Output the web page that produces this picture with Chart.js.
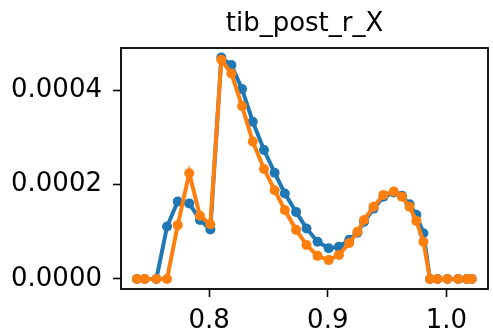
<!DOCTYPE html>
<html>
<head>
<meta charset="utf-8">
<script src="https://cdn.jsdelivr.net/npm/chart.js@4.4.1/dist/chart.umd.min.js"></script>
<style>
  html, body { margin: 0; padding: 0; background: #fff; }
  canvas { display: block; }
</style>
</head>
<body>
<canvas id="chart" width="493" height="331"></canvas>
<script>
// valeurs
const titleText = 'tib_post_r_X';
const xValues = [0.7392, 0.7458, 0.7556, 0.7646, 0.7736, 0.7833, 0.7923, 0.8011, 0.8103, 0.8188,
  0.8278, 0.8368, 0.8463, 0.8552, 0.8638, 0.8733, 0.8821, 0.8914, 0.9008, 0.9094,
  0.9181, 0.9250, 0.9306, 0.9386, 0.9469, 0.9556, 0.9625, 0.9689, 0.9746, 0.9806,
  0.9861, 0.9925, 1.0008, 1.0098, 1.0171, 1.0213];
const blueValues = [0, 0, 0, 0.000111, 0.000164, 0.000160, 0.000125, 0.000105, 0.000469, 0.000453,
  0.000402, 0.000333, 0.000273, 0.000225, 0.000181, 0.000142, 0.000107, 0.000079, 0.000065, 0.000068,
  0.000083, 0.000098, 0.000121, 0.000149, 0.000174, 0.000183, 0.000176, 0.000158, 0.000136, 0.000097,
  0, 0, 0, 0, 0, 0];
const orangeValues = [0, 0, 0, 0, 0.000114, 0.000224, 0.000134, 0.000116, 0.000464, 0.000435,
  0.000366, 0.000291, 0.000233, 0.000188, 0.000146, 0.000104, 0.000072, 0.000049, 0.000040, 0.000051,
  0.000076, 0.000100, 0.000125, 0.000153, 0.000178, 0.000185, 0.000174, 0.000153, 0.000123, 0.000079,
  0, 0, 0, 0, 0, 0];
const xTicks = [0.8, 0.9, 1.0];
const xTickLabels = ['0.8', '0.9', '1.0'];
const yTicks = [0, 0.0002, 0.0004];
const yTickLabels = ['0.0000', '0.0002', '0.0004'];

const toPoints = ys => ys.map((y, i) => ({ x: xValues[i], y: y }));

// cadre + titre centré sur la zone du graphique
const frameAndTitle = {
  id: 'frameAndTitle',
  afterDraw(chart) {
    const { ctx, chartArea: a } = chart;
    ctx.save();
    ctx.strokeStyle = '#000';
    ctx.lineWidth = 1.8;
    ctx.strokeRect(a.left, a.top, a.right - a.left, a.bottom - a.top);
    ctx.fillStyle = '#000';
    ctx.font = '26px "DejaVu Sans"';
    ctx.textAlign = 'center';
    ctx.textBaseline = 'middle';
    ctx.fillText(titleText, (a.left + a.right) / 2, 24);
    ctx.restore();
  }
};

const tickGrid = {
  display: true,
  drawOnChartArea: false,
  drawTicks: true,
  tickLength: 8,
  tickWidth: 1.6,
  tickColor: '#000'
};

new Chart(document.getElementById('chart'), {
  type: 'line',
  data: {
    datasets: [
      {
        data: toPoints(blueValues),
        borderColor: '#1f77b4',
        backgroundColor: '#1f77b4',
        borderWidth: 4,
        pointRadius: 5,
        pointBorderWidth: 0,
        order: 2
      },
      {
        data: toPoints(orangeValues),
        borderColor: '#ff7f0e',
        backgroundColor: '#ff7f0e',
        borderWidth: 4,
        pointRadius: 5,
        pointBorderWidth: 0,
        order: 1
      }
    ]
  },
  options: {
    responsive: false,
    animation: false,
    devicePixelRatio: 1,
    layout: { padding: { top: 48, right: 1, left: 0, bottom: 0 } },
    plugins: {
      legend: { display: false },
      title: { display: false },
      tooltip: { enabled: false }
    },
    scales: {
      x: {
        type: 'linear',
        min: 0.7258,
        max: 1.035,
        grid: tickGrid,
        border: { display: false },
        afterBuildTicks: s => { s.ticks = xTicks.map(v => ({ value: v })); },
        afterFit: s => { s.height = 42; },
        ticks: {
          color: '#000',
          font: { family: 'DejaVu Sans', size: 26 },
          padding: 9,
          maxRotation: 0,
          callback: (v) => xTickLabels[xTicks.indexOf(v)]
        }
      },
      y: {
        type: 'linear',
        min: -0.0000212,
        max: 0.000489,
        grid: tickGrid,
        border: { display: false },
        afterBuildTicks: s => { s.ticks = yTicks.map(v => ({ value: v })); },
        afterFit: s => { s.width = 121; },
        ticks: {
          color: '#000',
          font: { family: 'DejaVu Sans', size: 26 },
          padding: 11,
          callback: (v) => yTickLabels[yTicks.indexOf(v)]
        }
      }
    }
  },
  plugins: [frameAndTitle]
});
</script>
</body>
</html>
